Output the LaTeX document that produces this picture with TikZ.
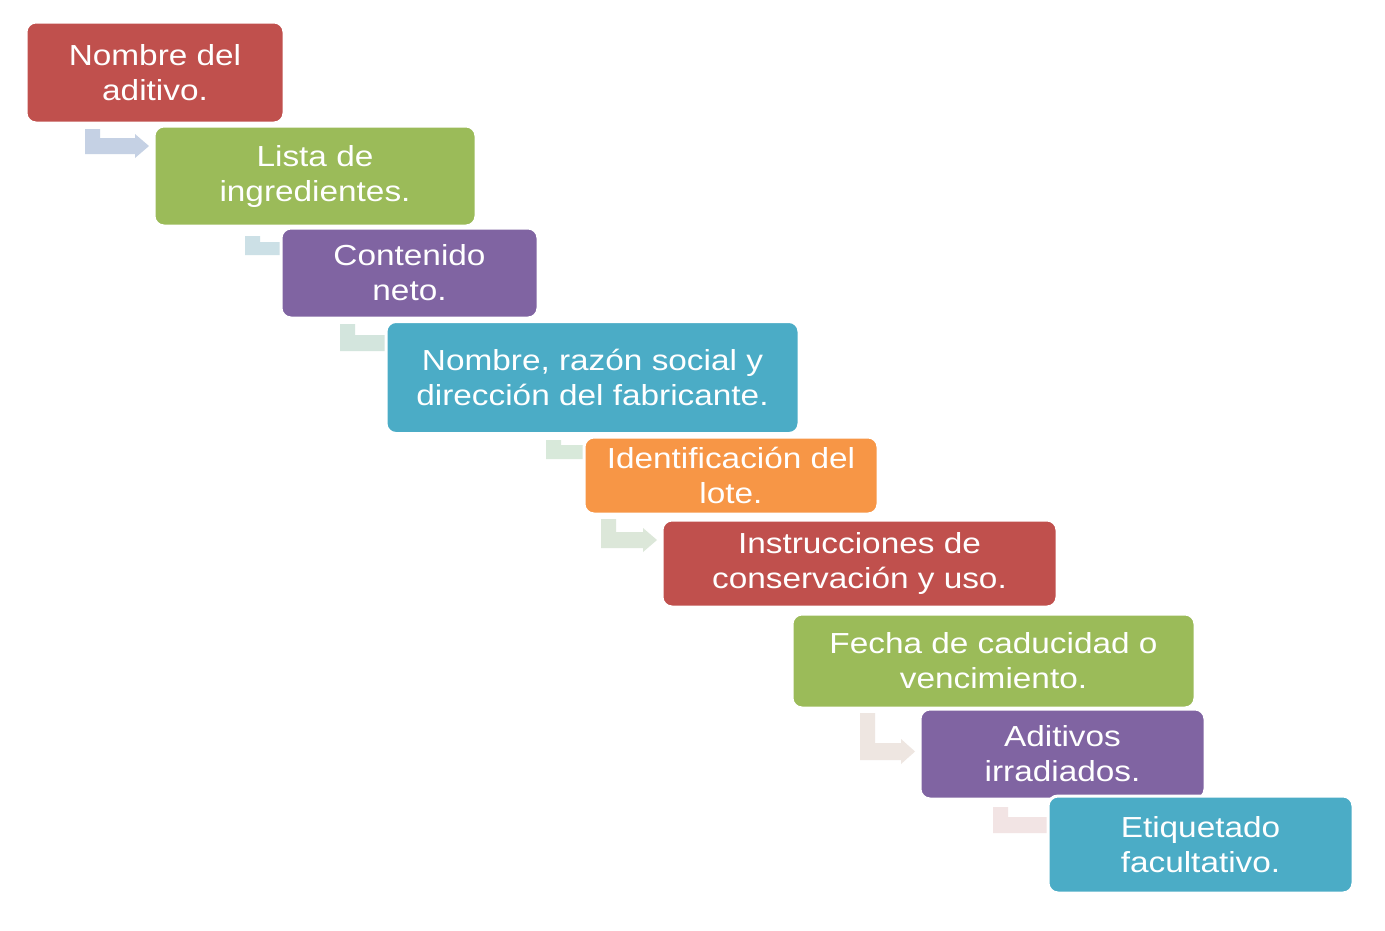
\documentclass[tikz,border=0pt]{standalone}
\usepackage{fontspec}
\setmainfont{Liberation Sans}[FakeStretch=1.15]
\definecolor{cRed}{HTML}{C0504D}
\definecolor{cGreen}{HTML}{9BBB59}
\definecolor{cPurple}{HTML}{8064A2}
\definecolor{cAqua}{HTML}{4BACC6}
\definecolor{cOrange}{HTML}{F79646}
\definecolor{aA}{HTML}{C5D1E4}
\definecolor{aB}{HTML}{CCE0E6}
\definecolor{aC}{HTML}{D3E5DD}
\definecolor{aD}{HTML}{D8E9DA}
\definecolor{aE}{HTML}{DCE7D9}
\definecolor{aF}{HTML}{EEE6E1}
\definecolor{aG}{HTML}{F2E4E4}
% #1 colour, #2 x0, #3 ytop, #4 ybottom, #5 xtip, #6 band thickness
\newcommand\bentarrow[6]{%
  \fill[#1] (#2,#3) -- ({#2+15},#3) -- ({#2+15},{#4-#6}) -- ({#5-14},{#4-#6})
    -- ({#5-14},{#4-#6-4}) -- (#5,{#4-#6/2}) -- ({#5-14},{#4+4}) -- ({#5-14},#4)
    -- (#2,#4) -- cycle;}
\tikzset{
  stepbox/.style={rectangle, rounded corners=10pt, draw=white, line width=3pt,
    inner sep=0pt, text=white, align=center,
    font=\fontsize{29}{35}\selectfont},
}
\begin{document}
\begin{tikzpicture}[x=1pt,y=-1pt]
\useasboundingbox[fill=white] (0,0) rectangle (1385,930);
% connectors (bent arrows, partly behind the boxes)
\bentarrow{aA}{85}{129}{154}{149}{16}
\bentarrow{aB}{245}{236}{255}{296}{13}
\bentarrow{aC}{340}{324}{351}{401}{16}
\bentarrow{aD}{546}{440}{459}{600}{14}
\bentarrow{aE}{601}{519}{548}{657}{16}
\bentarrow{aF}{860}{713}{760}{915}{17}
\bentarrow{aG}{993}{807}{833}{1064}{16}
% boxes
\node[stepbox, fill=cRed, minimum width=258pt, minimum height=101pt] (b1) at (155,72.5) {Nombre del\\aditivo.};
\node[stepbox, fill=cGreen, minimum width=322pt, minimum height=100pt] (b2) at (315,176) {Lista de\\ingredientes.};
\node[stepbox, fill=cPurple, minimum width=257pt, minimum height=90pt] (b3) at (409.5,273) {Contenido\\neto.};
\node[stepbox, fill=cAqua, minimum width=413pt, minimum height=112pt] (b4) at (592.5,377.5) {Nombre, razón social y\\dirección del fabricante.};
\node[stepbox, fill=cOrange, minimum width=294pt, minimum height=77pt] (b5) at (731,475.5) {Identificación del\\lote.};
\node[stepbox, fill=cRed, minimum width=395pt, minimum height=87pt] (b6) at (859.5,563.5) {Instrucciones de\\conservación y uso.};
\node[stepbox, fill=cGreen, minimum width=403pt, minimum height=94pt] (b7) at (993.5,661) {Fecha de caducidad o\\vencimiento.};
\node[stepbox, fill=cPurple, minimum width=285pt, minimum height=90pt] (b8) at (1062.5,754) {Aditivos\\irradiados.};
\node[stepbox, fill=cAqua, minimum width=305pt, minimum height=97pt] (b9) at (1200.5,844.5) {Etiquetado\\facultativo.};
\end{tikzpicture}
\end{document}
